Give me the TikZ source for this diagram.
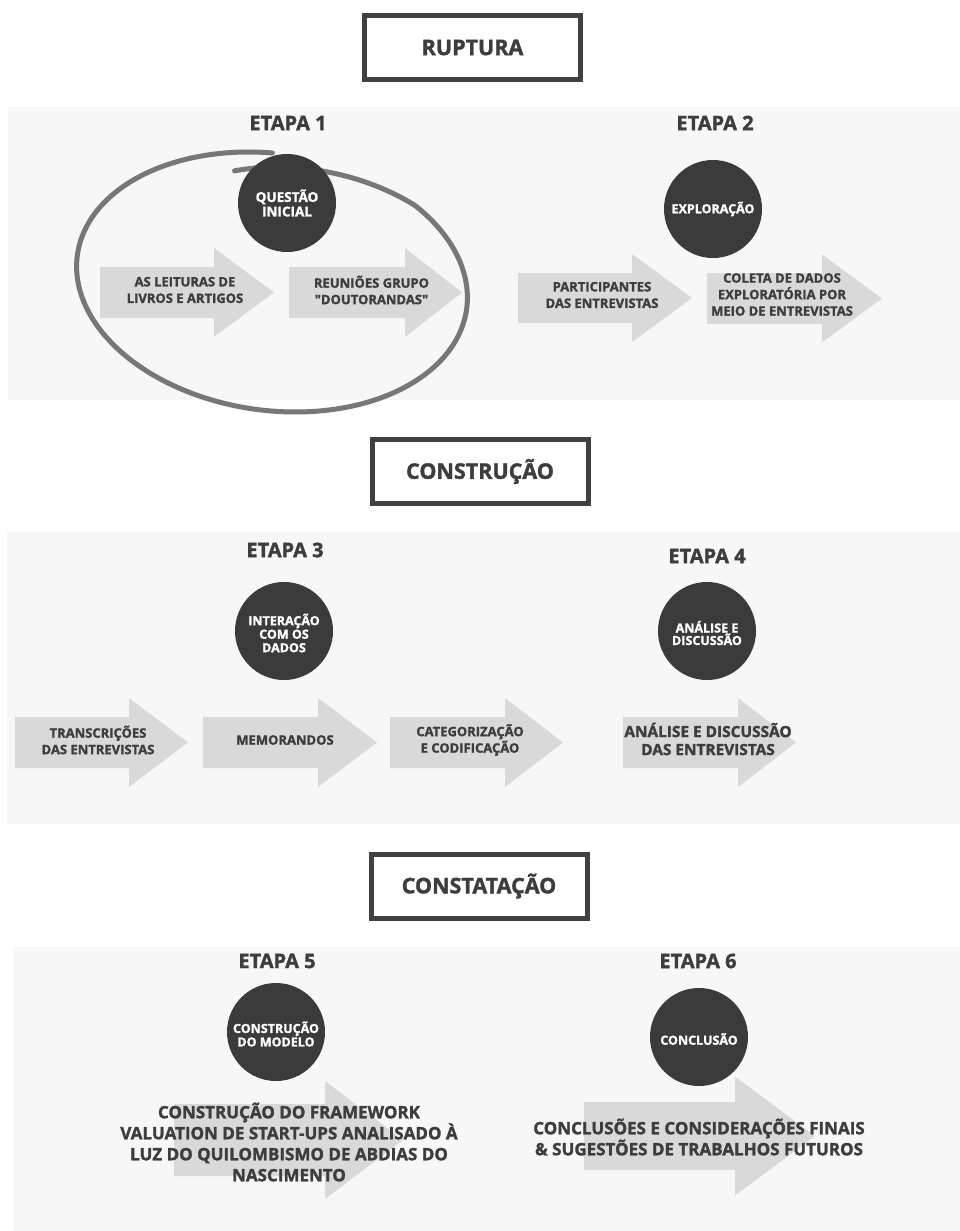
\documentclass[tikz,border=0pt]{standalone}
\usepackage{fontspec}
\setmainfont{Open Sans}[BoldFeatures={FakeBold=1.6}]
\definecolor{panelbg}{HTML}{F7F7F7}
\definecolor{arrowfill}{HTML}{D9D9D9}
\definecolor{darkdisc}{HTML}{3B3B3B}
\definecolor{inktext}{HTML}{3D3D3D}
\definecolor{boxline}{HTML}{404040}
\definecolor{ringgray}{HTML}{777777}
% flat block arrow: body left x, head start x, tip x, centre y, body half height, head half height
\newcommand{\blockarrow}[6]{%
  \fill[arrowfill] (#1,#4-#5) -- (#2,#4-#5) -- (#2,#4-#6) -- (#3,#4)
    -- (#2,#4+#6) -- (#2,#4+#5) -- (#1,#4+#5) -- cycle;}
\begin{document}
\begin{tikzpicture}[x=1pt,y=-1pt,
  declare function={rf(\t)=1-0.14*max(0,(\t-36)/60);},
  stagebox/.style={draw=boxline, line width=5pt, fill=white, minimum width=216pt,
    minimum height=64pt, inner sep=0pt, text=inktext,
    font=\bfseries\fontsize{21.5}{26}\selectfont},
  etapa/.style={text=inktext, inner sep=0pt, font=\bfseries\fontsize{20}{22}\selectfont},
  disc/.style={circle, fill=darkdisc, minimum size=98pt, inner sep=0pt},
  disctext/.style={text=white, align=center, inner sep=0pt,
    font=\bfseries\fontsize{12.5}{13.5}\selectfont},
  arrtext/.style={text=inktext, align=center, inner sep=0pt,
    font=\bfseries\fontsize{13}{16.5}\selectfont},
  bigtext/.style={text=inktext, align=center, inner sep=0pt,
    font=\bfseries\fontsize{17}{21}\selectfont},
  ring/.style={draw=ringgray, line width=5pt, line cap=round, line join=round}]

\useasboundingbox (0,0) rectangle (960,1231);
\fill[white] (0,0) rectangle (960,1231);

% grey bands behind each phase
\fill[panelbg] (8,107) rectangle (960,400);
\fill[panelbg] (7,532) rectangle (960,824);
\fill[panelbg] (13,947) rectangle (960,1231);

% phase titles
\node[stagebox] (ruptura) at (472.5,47.5) {RUPTURA};
\node[stagebox] (construcao) at (480,471.5) {CONSTRUÇÃO};
\node[stagebox] (constatacao) at (479,886) {CONSTATAÇÃO};

% stage labels
\node[etapa] (e1) at (288,123) {ETAPA 1};
\node[etapa] (e2) at (715,123) {ETAPA 2};
\node[etapa] (e3) at (285,550) {ETAPA 3};
\node[etapa] (e4) at (707,556) {ETAPA 4};
\node[etapa] (e5) at (277,961) {ETAPA 5};
\node[etapa] (e6) at (698,961) {ETAPA 6};

% block arrows
\blockarrow{100}{214}{274}{292.5}{25.5}{44.5}
\blockarrow{289}{405}{462}{292.5}{25.5}{44.5}
\blockarrow{518}{632}{692}{298}{25}{44}
\blockarrow{707}{822}{882}{298.5}{25.5}{44}
\blockarrow{15}{129}{188}{742.5}{25.5}{44.5}
\blockarrow{203}{318}{377}{742.5}{25.5}{44.5}
\blockarrow{390}{505}{563}{742.5}{25.5}{44.5}
\blockarrow{623}{738}{796}{742.5}{25.5}{44.5}
\blockarrow{174}{325}{403}{1140}{36}{59}
\blockarrow{584}{735}{815}{1136}{34}{59.5}

% hand-drawn loop around the first stage
\draw[ring] plot[domain=96:-277, samples=240, smooth]
  ({272 + 194*rf(\x)*cos(\x) - 0.18*130*rf(\x)*sin(\x)}, {282 - 130*rf(\x)*sin(\x)});

% stage discs
\node[disc] (d1) at (287,203) {};
\node[disctext, font=\bfseries\fontsize{13.5}{14.5}\selectfont] at (d1) {QUESTÃO\\INICIAL};
\node[disc] (d2) at (713,209) {};
\node[disctext, font=\bfseries\fontsize{12.5}{13.5}\selectfont] at (d2) {EXPLORAÇÃO};
\node[disc] (d3) at (284,631) {};
\node[disctext] at ([yshift=-2]d3.center) {INTERAÇÃO\\COM OS\\DADOS};
\node[disc] (d4) at (707,631) {};
\node[disctext, font=\bfseries\fontsize{12.5}{12.5}\selectfont] at ([yshift=-2]d4.center) {ANÁLISE E\\DISCUSSÃO};
\node[disc] (d5) at (276,1032) {};
\node[disctext] at ([yshift=-2]d5.center) {CONSTRUÇÃO\\DO MODELO};
\node[disc] (d6) at (699,1037) {};
\node[disctext] at ([yshift=-2]d6.center) {CONCLUSÃO};

% arrow captions
\node[arrtext] (t1) at (185,290) {AS LEITURAS DE\\LIVROS E ARTIGOS};
\node[arrtext] (t2) at (371.5,290) {REUNIÕES GRUPO\\\textquotedbl DOUTORANDAS\textquotedbl};
\node[arrtext] (t3) at (602,295) {PARTICIPANTES\\DAS ENTREVISTAS};
\node[arrtext] (t4) at (782,294.5) {COLETA DE DADOS\\EXPLORATÓRIA POR\\MEIO DE ENTREVISTAS};
\node[arrtext] (t5) at (98,740) {TRANSCRIÇÕES\\DAS ENTREVISTAS};
\node[arrtext] (t6) at (285,740) {MEMORANDOS};
\node[arrtext] (t7) at (470,740) {CATEGORIZAÇÃO\\E CODIFICAÇÃO};
\node[arrtext, font=\bfseries\fontsize{15.4}{18}\selectfont] (t8) at (708,739)
  {ANÁLISE E DISCUSSÃO\\DAS ENTREVISTAS};
\node[bigtext] (t9) at (289,1142) {CONSTRUÇÃO DO FRAMEWORK\\VALUATION DE START-UPS ANALISADO À\\LUZ DO QUILOMBISMO DE ABDIAS DO\\NASCIMENTO};
\node[bigtext] (t10) at (699,1137) {CONCLUSÕES E CONSIDERAÇÕES FINAIS\\\& SUGESTÕES DE TRABALHOS FUTUROS};
\end{tikzpicture}
\end{document}
